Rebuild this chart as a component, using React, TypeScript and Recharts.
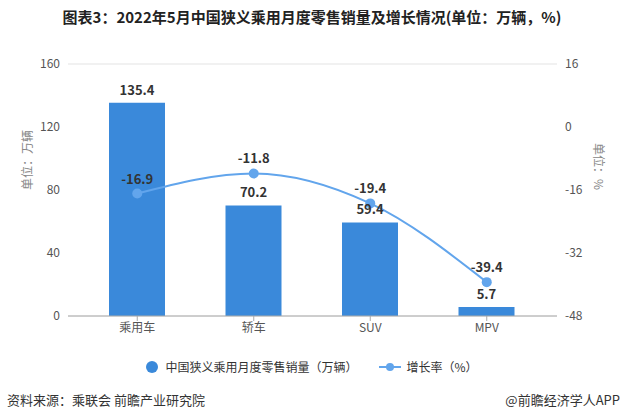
import { ComposedChart, Bar, Line, XAxis, YAxis, CartesianGrid, LabelList } from "recharts";

const categories = ["乘用车", "轿车", "SUV", "MPV"];
const salesValues = [135.4, 70.2, 59.4, 5.7];
const growthValues = [-16.9, -11.8, -19.4, -39.4];
const leftTicks = [0, 40, 80, 120, 160];
const rightTicks = [-48, -32, -16, 0, 16];

const data = categories.map((name, i) => ({ name, sales: salesValues[i], growth: growthValues[i] }));

const font = "'Noto Sans CJK SC', 'Noto Sans', sans-serif";
const barColor = "#3a89da";
const lineColor = "#62a5ec";

export default function App() {
  return (
    <div style={{ position: "absolute", left: 0, top: 0, width: 624, height: 420, background: "#fff", fontFamily: font }}>
      <div style={{ position: "absolute", top: 6, left: 0, width: 624, textAlign: "center", fontSize: 15, fontWeight: 700, color: "#222" }}>
        图表3：2022年5月中国狭义乘用月度零售销量及增长情况(单位：万辆，%)
      </div>
      <ComposedChart
        width={624}
        height={420}
        data={data}
        margin={{ top: 64, right: 0, bottom: 74, left: 0 }}
        style={{ position: "absolute", left: 0, top: 0 }}
      >
        <CartesianGrid vertical={false} stroke="#e3e3e3" />
        <XAxis
          dataKey="name"
          padding={{ left: 11, right: 12 }}
          stroke="#aaa"
          tick={{ fill: "#555", fontSize: 12, fontFamily: font }}
          tickSize={5}
          height={30}
        />
        <YAxis
          yAxisId="left"
          width={68}
          domain={[0, 160]}
          ticks={leftTicks}
          axisLine={false}
          tickLine={false}
          tick={{ fill: "#555", fontSize: 12, fontFamily: font }}
          label={{ value: "单位：万辆", angle: -90, position: "insideLeft", offset: 28, fill: "#888", fontSize: 12, fontFamily: font }}
        />
        <YAxis
          yAxisId="right"
          orientation="right"
          width={67}
          domain={[-48, 16]}
          ticks={rightTicks}
          axisLine={false}
          tickLine={false}
          tick={{ fill: "#555", fontSize: 12, fontFamily: font }}
          label={{ value: "单位：%", angle: 90, position: "insideRight", offset: 26, fill: "#888", fontSize: 12, fontFamily: font }}
        />
        <Bar yAxisId="left" dataKey="sales" fill={barColor} barSize={56} isAnimationActive={false}>
          <LabelList dataKey="sales" position="top" offset={8} fill="#333" fontSize={13} fontWeight={700} fontFamily={font} />
        </Bar>
        <Line
          yAxisId="right"
          dataKey="growth"
          type="monotone"
          stroke={lineColor}
          strokeWidth={2}
          dot={{ r: 5, fill: lineColor, stroke: lineColor, strokeWidth: 0 }}
          isAnimationActive={false}
        >
          <LabelList dataKey="growth" position="top" offset={10} fill="#333" fontSize={13} fontWeight={700} fontFamily={font} />
        </Line>
      </ComposedChart>
      <div style={{ position: "absolute", top: 358, left: 0, width: 624, display: "flex", justifyContent: "center", alignItems: "center", fontSize: 12, color: "#333" }}>
        <span style={{ display: "inline-block", width: 12, height: 12, borderRadius: "50%", background: barColor, marginRight: 7 }} />
        <span style={{ marginRight: 22 }}>中国狭义乘用月度零售销量（万辆）</span>
        <svg width={22} height={12} style={{ marginRight: 5 }}>
          <line x1={0} y1={6} x2={22} y2={6} stroke={lineColor} strokeWidth={2} />
          <circle cx={11} cy={6} r={4} fill={lineColor} />
        </svg>
        <span>增长率（%）</span>
      </div>
      <div style={{ position: "absolute", top: 390, left: 7, fontSize: 13, color: "#333" }}>资料来源：乘联会 前瞻产业研究院</div>
      <div style={{ position: "absolute", top: 390, right: 4, fontSize: 13, color: "#333" }}>@前瞻经济学人APP</div>
    </div>
  );
}
